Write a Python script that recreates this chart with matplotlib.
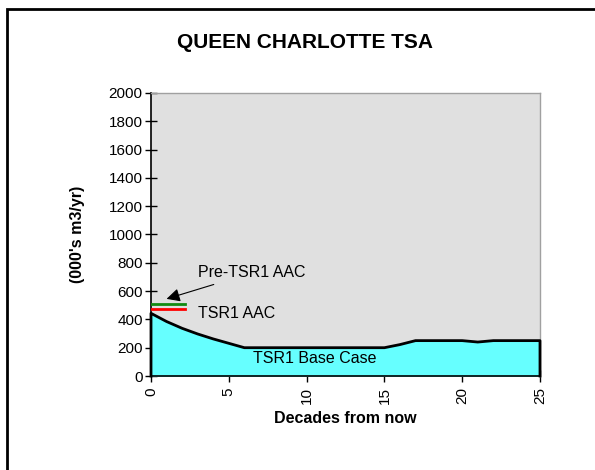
import matplotlib.pyplot as plt
from matplotlib.patches import Rectangle

plt.rcParams["font.family"] = ["Liberation Sans", "DejaVu Sans"]

# harvest forecast, 000's m3/yr per decade
decades = list(range(26))
base_case = [443, 385, 337, 297, 262, 231, 200, 200, 200, 200, 200, 200, 200,
             200, 200, 200, 222, 250, 250, 250, 250, 240, 250, 250, 250, 250]

aac_x = [0, 2.2]
pre_tsr1_aac = [510, 510]
tsr1_aac = [475, 475]

fig = plt.figure(figsize=(5.95, 4.70), dpi=100)
fig.patch.set_facecolor("white")

# outer frame of the chart
fig.patches.append(Rectangle((6.5 / 595, -0.1), 1.2, 1 - 8.5 / 470 + 0.1,
                             transform=fig.transFigure, fill=False,
                             edgecolor="black", linewidth=2))

ax = fig.add_axes([151 / 595, 1 - 376 / 470, 389 / 595, 283 / 470])
ax.set_facecolor("#E0E0E0")

ax.fill_between(decades, base_case, 0, color="#66FFFF", zorder=2)
ax.plot([0] + decades + [25], [0] + base_case + [0], color="black",
        linewidth=2, zorder=3, clip_on=False)

ax.plot(aac_x, pre_tsr1_aac, color="#128A12", linewidth=2, zorder=3)
ax.plot(aac_x, tsr1_aac, color="#FF0000", linewidth=2, zorder=3)

ax.set_xlim(0, 25)
ax.set_ylim(0, 2000)
ax.set_xticks(range(0, 26, 5))
ax.set_yticks(range(0, 2001, 200))
ax.tick_params(axis="x", direction="inout", length=8, width=1,
               labelsize=11, labelrotation=90, pad=4)
ax.tick_params(axis="y", direction="inout", length=8, width=1,
               labelsize=11, pad=2)

for s in ["left", "bottom"]:
    ax.spines[s].set_color("black")
    ax.spines[s].set_linewidth(1.2)
for s in ["top", "right"]:
    ax.spines[s].set_color("#A0A0A0")
    ax.spines[s].set_linewidth(1)

ax.set_xlabel("Decades from now", fontsize=11.5, fontweight="bold", labelpad=5)
ax.set_ylabel("(000's m3/yr)", fontsize=11.5, fontweight="bold", labelpad=17)

fig.text(305 / 595, 1 - 42 / 470, "QUEEN CHARLOTTE TSA", ha="center",
         va="center", fontsize=15, fontweight="bold")

ax.annotate("Pre-TSR1 AAC", xy=(1.0, 545), xytext=(3.0, 728),
            fontsize=11.5, va="center", ha="left",
            arrowprops=dict(arrowstyle="-|>", color="black", lw=0.8,
                            mutation_scale=20, shrinkA=3, shrinkB=0))
ax.text(3.0, 445, "TSR1 AAC", fontsize=11.5, va="center", ha="left")
ax.text(10.5, 127, "TSR1 Base Case", fontsize=11.5, va="center", ha="center",
        zorder=4)

fig.savefig("out.png", dpi=100)
